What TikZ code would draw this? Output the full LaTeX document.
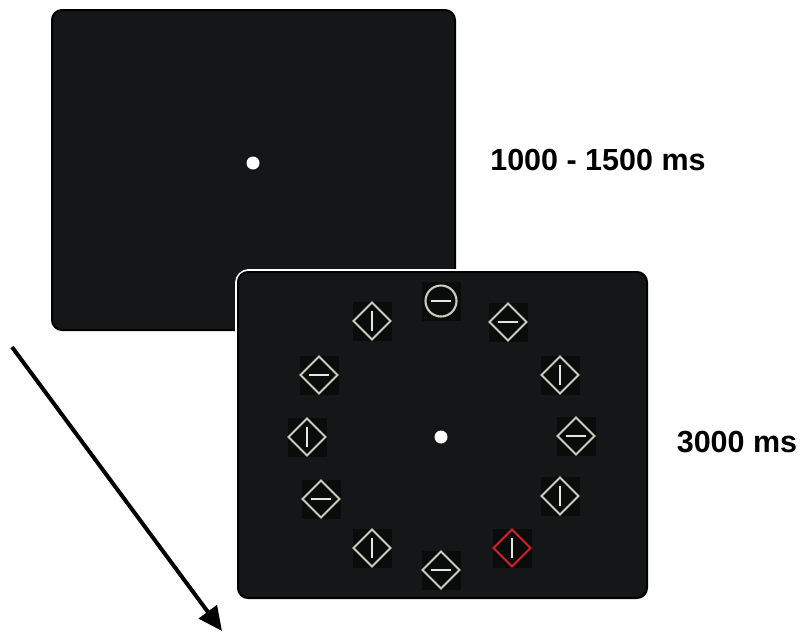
\documentclass[tikz,border=0pt]{standalone}
\usepackage{fontspec}
\setmainfont{Liberation Sans}
\usetikzlibrary{arrows.meta}
\definecolor{screen}{HTML}{151618}
\definecolor{itemblack}{HTML}{0A0B0B}
\definecolor{stimgrey}{HTML}{C6CDBF}
\definecolor{barwhite}{HTML}{E4E6E2}
\definecolor{stimred}{HTML}{D42227}
\tikzset{
  screenbox/.style={fill=screen, draw=black, line width=2pt, rounded corners=10pt},
  fixdot/.style={circle, fill=white, inner sep=0pt, minimum size=13pt},
  stim/.style={draw=stimgrey, line width=2.1pt},
  bar/.style={draw=barwhite, line width=2.4pt},
  timelabel/.style={font=\bfseries\fontsize{30.5}{34}\selectfont, text=black, inner sep=0pt},
  pics/dv/.style={code={
    \fill[itemblack] (-19.5,-19.5) rectangle (19.5,19.5);
    \draw[stim, draw=#1] (0,-18.5) -- (18.5,0) -- (0,18.5) -- (-18.5,0) -- cycle;
    \draw[bar] (0,-10) -- (0,10);}},
  pics/dv/.default=stimgrey,
  pics/dh/.style={code={
    \fill[itemblack] (-19.5,-19.5) rectangle (19.5,19.5);
    \draw[stim, draw=#1] (0,-18.5) -- (18.5,0) -- (0,18.5) -- (-18.5,0) -- cycle;
    \draw[bar] (-10,0) -- (10,0);}},
  pics/dh/.default=stimgrey,
  pics/ch/.style={code={
    \fill[itemblack] (-19.5,-19.5) rectangle (19.5,19.5);
    \draw[stim, draw=#1] (0,0) circle (15.5);
    \draw[bar] (-10,0) -- (10,0);}},
  pics/ch/.default=stimgrey,
}
\begin{document}
\begin{tikzpicture}[x=1pt,y=-1pt]
\useasboundingbox (0,0) rectangle (804,633);
% first screen
\draw[screenbox] (52,10) rectangle (455,330);
\node[fixdot] (fix1) at (253,163) {};
% second screen with white outline
\draw[draw=white, line width=6pt, rounded corners=11pt] (238,272) rectangle (647,598);
\draw[screenbox] (238,272) rectangle (647,598);
\node[fixdot] (fix2) at (441,437) {};
% search array
\pic at (441,301) {ch};
\pic at (372,321) {dv};
\pic at (508,322) {dh};
\pic at (319,375) {dh};
\pic at (560,375) {dv};
\pic at (307,437) {dv};
\pic at (576,436) {dh};
\pic at (321,499) {dh};
\pic at (560,496) {dv};
\pic at (372,548) {dv};
\pic at (512,548) {dv=stimred};
\pic at (441,570) {dh};
% labels
\node[timelabel] (t1) at (598,160) {1000 - 1500 ms};
\node[timelabel] (t2) at (737,442) {3000 ms};
% time arrow
\coordinate (a0) at (12,347);
\coordinate (a1) at (222,631);
\draw[line width=4pt, -{Triangle[length=24pt,width=22pt]}] (a0) -- (a1);
\end{tikzpicture}
\end{document}
